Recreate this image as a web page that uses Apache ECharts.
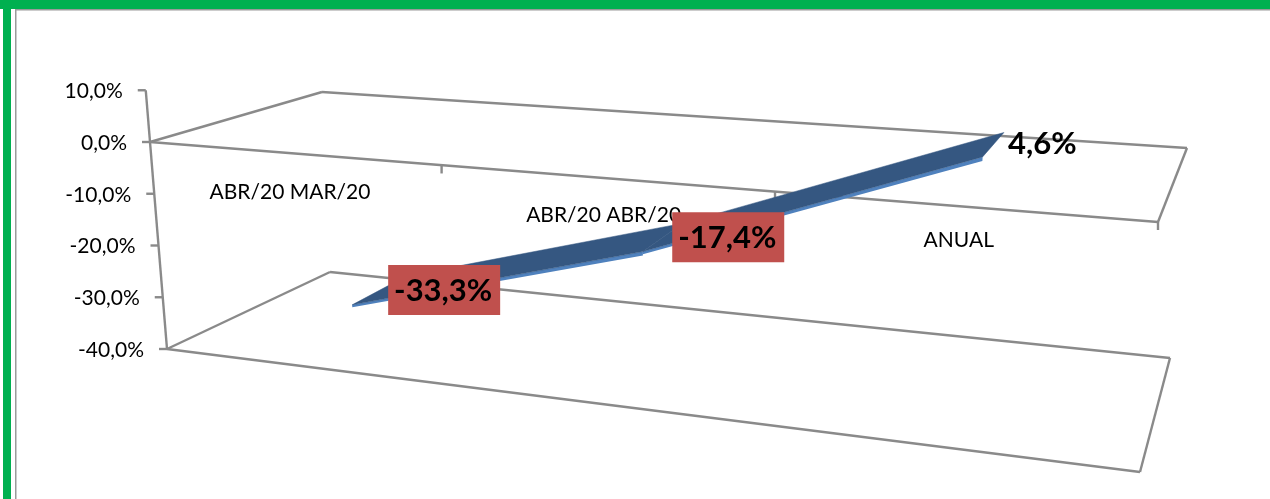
<!DOCTYPE html>
<html>
<head>
<meta charset="utf-8">
<style>
  html, body { margin: 0; padding: 0; background: #fff; }
  #chart { width: 1270px; height: 499px; }
</style>
<script src="https://cdn.jsdelivr.net/npm/echarts@6/dist/echarts.min.js"></script>
</head>
<body>
<div id="chart"></div>
<script>
var categories = ['ABR/20 MAR/20', 'ABR/20 ABR/20', 'ANUAL'];
var values = [-33.3, -17.4, 4.6];
var valueTicks = [10, 0, -10, -20, -30, -40];

var LINE = '#8A8A8A';
var FONT = 'Lato, "Open Sans", sans-serif';

// caixa 3D: cantos (plano do zero e piso em -40%)
var zeroPlane = { fl: [150, 142], bl: [322, 92], br: [1187, 148], fr: [1158, 222] };
var floorPlane = { fl: [167, 349], bl: [330, 272], br: [1170, 358], fr: [1140, 472] };
var PERSP = 1.205;
var RIBBON_FRONT = 0.335;
var RIBBON_BACK = 0.71;

function lerp(a, b, t) {
  return [a[0] + (b[0] - a[0]) * t, a[1] + (b[1] - a[1]) * t];
}

function planePoint(plane, u, d) {
  return lerp(lerp(plane.fl, plane.fr, u), lerp(plane.bl, plane.br, u), d);
}

// u: posicao na faixa do eixo (0..1), d: profundidade, l: 0 = zero, 1 = -40%
function project(u, d, l) {
  var w = u / (PERSP - (PERSP - 1) * u);
  return lerp(planePoint(zeroPlane, w, d), planePoint(floorPlane, w, d), l);
}

function gridInfo(params, api) {
  var r = params.coordSys;
  var y0 = api.coord([0, 0])[1];
  var y40 = api.coord([0, -40])[1];
  return {
    toU: function(px) { return (px - r.x) / r.width; },
    toL: function(py) { return (py - y0) / (y40 - y0); }
  };
}

function line(a, b) {
  return {
    type: 'line',
    shape: { x1: a[0], y1: a[1], x2: b[0], y2: b[1] },
    style: { stroke: LINE, lineWidth: 2.4 }
  };
}

function renderFrame(params, api) {
  var g = gridInfo(params, api);
  var v = api.value(1);
  var l = g.toL(api.coord([0, v])[1]);
  var p = project(0, 0, l);
  var children = [
    line([p[0] - 8, p[1]], p),
    {
      type: 'text',
      style: {
        text: v.toFixed(1).replace('.', ',') + '%',
        x: p[0] - 23, y: p[1] + 1,
        align: 'right', verticalAlign: 'middle',
        font: '21px ' + FONT, fill: '#000'
      }
    }
  ];
  if (params.dataIndex === 0) {
    var n = categories.length;
    children.push(line(project(0, 0, g.toL(api.coord([0, 10])[1])), project(0, 0, 1)));
    [0, 1].forEach(function(lv) {
      children.push(line(project(0, 0, lv), project(0, 1, lv)));
      children.push(line(project(0, 1, lv), project(1, 1, lv)));
      children.push(line(project(1, 1, lv), project(1, 0, lv)));
      children.push(line(project(1, 0, lv), project(0, 0, lv)));
    });
    for (var i = 1; i <= n; i++) {
      var t = project(i / n, 0, 0);
      var tx = i < n ? t[0] - 4 : t[0];
      children.push(line([tx, t[1]], [tx, t[1] + 8]));
    }
  }
  return { type: 'group', children: children };
}

function renderCategory(params, api) {
  var g = gridInfo(params, api);
  var c = api.coord([api.value(0), 0]);
  var u = g.toU(c[0]);
  var p = project(u, 0, 0);
  return {
    type: 'text',
    style: {
      text: categories[params.dataIndex],
      x: p[0] - 3.5, y: p[1] + 40 - u * 7,
      align: 'center', verticalAlign: 'middle',
      font: '21px ' + FONT, fill: '#000'
    }
  };
}

function renderRibbon(params, api) {
  var i = params.dataIndex;
  var g = gridInfo(params, api);
  var c = api.coord([i, api.value(1)]);
  var u = g.toU(c[0]);
  var l = g.toL(c[1]);
  var children = [];
  if (i < values.length - 1) {
    var c2 = api.coord([i + 1, values[i + 1]]);
    var u2 = g.toU(c2[0]);
    var l2 = g.toL(c2[1]);
    // borda frontal mais clara
    children.push({
      type: 'polygon',
      shape: { points: [
        project(u, RIBBON_FRONT, l), project(u2, RIBBON_FRONT, l2),
        project(u2, RIBBON_FRONT, l2 + 0.018), project(u, RIBBON_FRONT, l + 0.012)
      ] },
      style: { fill: '#4F81BD' }
    });
    children.push({
      type: 'polygon',
      shape: { points: [
        project(u, RIBBON_FRONT, l), project(u2, RIBBON_FRONT, l2),
        project(u2, RIBBON_BACK, l2), project(u, RIBBON_BACK, l)
      ] },
      style: { fill: '#355781', stroke: '#355781', lineWidth: 0.5 }
    });
  }
  return { type: 'group', children: children };
}

function renderLabel(params, api) {
  var g = gridInfo(params, api);
  var v = api.value(1);
  var c = api.coord([api.value(0), v]);
  var p = project(g.toU(c[0]), 0.5, g.toL(c[1]));
  var text = v.toFixed(1).replace('.', ',') + '%';
  var font = 'bold 31px ' + FONT;
  if (v < 0) {
    var cx = p[0] + 68;
    var cy = p[1] - 2;
    return {
      type: 'group',
      children: [
        {
          type: 'rect',
          shape: { x: cx - 56, y: cy - 25, width: 112, height: 50 },
          style: { fill: '#C0504D' }
        },
        {
          type: 'text',
          style: { text: text, x: cx - 1, y: cy + 1, align: 'center', verticalAlign: 'middle', font: font, fill: '#000' }
        }
      ]
    };
  }
  return {
    type: 'text',
    style: { text: text, x: p[0] + 16, y: p[1] - 2, align: 'left', verticalAlign: 'middle', font: font, fill: '#000' }
  };
}

var chart = echarts.init(document.getElementById('chart'));
chart.setOption({
  animation: false,
  backgroundColor: '#fff',
  tooltip: { show: false },
  grid: { left: 147, top: 88, width: 1025, height: 262 },
  xAxis: { type: 'category', data: categories, show: false },
  yAxis: { type: 'value', min: -40, max: 10, interval: 10, show: false },
  graphic: [
    { type: 'rect', shape: { x: 0, y: 0, width: 1270, height: 9 }, style: { fill: '#00B050' } },
    { type: 'rect', shape: { x: 3, y: 0, width: 8, height: 499 }, style: { fill: '#00B050' } },
    { type: 'rect', shape: { x: 15, y: 9, width: 1255, height: 1.5 }, style: { fill: '#9A9A9A' } },
    { type: 'rect', shape: { x: 15, y: 9, width: 1.5, height: 490 }, style: { fill: '#9A9A9A' } }
  ],
  series: [
    {
      type: 'custom',
      renderItem: renderFrame,
      silent: true,
      data: valueTicks.map(function(v) { return [0, v]; })
    },
    {
      type: 'custom',
      renderItem: renderCategory,
      silent: true,
      data: categories.map(function(c, i) { return [i, 0]; })
    },
    {
      type: 'custom',
      renderItem: renderRibbon,
      silent: true,
      data: values.map(function(v, i) { return [i, v]; })
    },
    {
      type: 'custom',
      renderItem: renderLabel,
      silent: true,
      data: values.map(function(v, i) { return [i, v]; })
    }
  ]
});
</script>
</body>
</html>
